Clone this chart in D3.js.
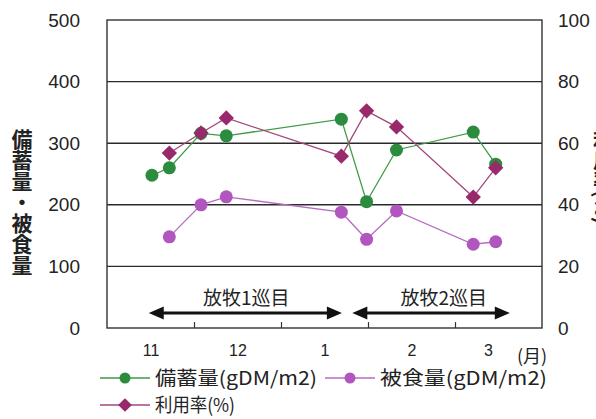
<!DOCTYPE html>
<html>
<head>
<meta charset="utf-8">
<script src="https://cdn.jsdelivr.net/npm/d3@7"></script>
<style>
  html, body { margin: 0; padding: 0; background: #fff; }
  svg { display: block; }
</style>
</head>
<body>
<svg id="chart" width="596" height="419"></svg>
<script>
// ---- data ----
const dates    = ["11/16","11/22","12/03","12/12","01/22","01/31","02/10","03/07","03/15"];
const standing = [248, 260, 316, 312, 339, 205, 289, 318, 266];   // 備蓄量 gDM/m2
const eaten    = [null, 148, 200, 213, 188, 144, 190, 136, 140];  // 被食量 gDM/m2
const rate     = [null, 56.8, 63.3, 68.2, 55.8, 70.5, 65.3, 42.5, 52.0]; // 利用率 %
const monthOrder  = [11, 12, 1, 2, 3];
const monthLabels = ["11", "12", "1", "2", "3"];
const monthLabelPos = [0.5, 1.5, 2.5, 3.5, 4.38];
const leftTicks  = [0, 100, 200, 300, 400, 500];
const rightTicks = [0, 20, 40, 60, 80, 100];
const gridTicks  = [100, 200, 300, 400];
const periods = [
  { label: "放牧1巡目", start: 0.48, end: 2.70, textAt: 1.60 },
  { label: "放牧2巡目", start: 2.82, end: 4.63, textAt: 3.87 }
];
const leftTitle  = "備蓄量・被食量";
const rightTitle = "利用率(%)";

// ---- helpers ----
function toMonth(s) {
  const [m, d] = s.split("/").map(Number);
  const i = monthOrder.indexOf(m);
  const year = m >= 11 ? 2007 : 2008;
  const days = new Date(year, m, 0).getDate();
  return i + (d - 0.5) / days;
}

const svg = d3.select("#chart");
const L = 107, R = 542, T = 20, B = 328;
const x  = d3.scaleLinear().domain([0, 5]).range([L, R]);
const yL = d3.scaleLinear().domain([0, 500]).range([B, T]);
const yR = d3.scaleLinear().domain([0, 100]).range([B, T]);

const latin = "'Liberation Sans', Arial, 'Noto Sans CJK JP', sans-serif";
const cjk = "'Noto Sans CJK JP', 'Liberation Sans', sans-serif";

const cGreen = "#2a8c3c", cGreenLine = "#3f9a45";
const cPink  = "#b256bf", cPinkLine  = "#b86cc3";
const cDia   = "#982a6c", cDiaLine   = "#a4477c";

// gridlines
svg.append("g").selectAll("line").data(gridTicks).join("line")
  .attr("x1", L).attr("x2", R)
  .attr("y1", d => yL(d)).attr("y2", d => yL(d))
  .attr("stroke", "#2a2a2a").attr("stroke-width", 1.4);

// frame
svg.append("rect").attr("x", L).attr("y", T).attr("width", R - L).attr("height", B - T)
  .attr("fill", "none").attr("stroke", "#333").attr("stroke-width", 1.4);

// left axis
const gl = svg.append("g").attr("transform", `translate(${L},0)`)
  .call(d3.axisLeft(yL).tickValues(leftTicks).tickSize(0).tickPadding(27));
gl.select(".domain").remove();
gl.selectAll("text").attr("font-family", latin).attr("font-size", 19).attr("fill", "#222");

// right axis
const gr = svg.append("g").attr("transform", `translate(${R},0)`)
  .call(d3.axisRight(yR).tickValues(rightTicks).tickSize(0).tickPadding(16));
gr.select(".domain").remove();
gr.selectAll("text").attr("font-family", latin).attr("font-size", 19).attr("fill", "#222");

// x ticks (inside)
const gx = svg.append("g").attr("transform", `translate(0,${B})`)
  .call(d3.axisBottom(x).tickValues([1, 2, 3, 4]).tickSize(-6).tickFormat(""));
gx.select(".domain").remove();
gx.selectAll("line").attr("stroke", "#333").attr("stroke-width", 1.2);

// x labels
const gxl = svg.append("g").attr("transform", `translate(0,${B})`)
  .call(d3.axisBottom(x).tickValues(monthLabelPos).tickSize(0).tickPadding(17)
    .tickFormat((d, i) => monthLabels[i]));
gxl.select(".domain").remove();
gxl.selectAll("text").attr("font-family", latin).attr("font-size", 16).attr("fill", "#222");

svg.append("text").attr("x", 532).attr("y", 363).attr("text-anchor", "middle")
  .attr("font-family", cjk).attr("font-size", 18).attr("fill", "#222").text("(月)");

// axis titles (vertical writing)
svg.append("text").attr("x", 22).attr("y", 202)
  .style("writing-mode", "vertical-rl").attr("text-anchor", "middle")
  .attr("font-family", cjk).attr("font-size", 21).attr("font-weight", "bold")
  .attr("fill", "#222").text(leftTitle);
svg.append("text").attr("x", 603).attr("y", 130)
  .style("writing-mode", "vertical-rl").attr("text-anchor", "start")
  .attr("font-family", cjk).attr("font-size", 20).attr("font-weight", "bold")
  .attr("fill", "#222").text(rightTitle);

// period arrows
const ay = B - 15;
periods.forEach(p => {
  const x1 = x(p.start), x2 = x(p.end);
  svg.append("line").attr("x1", x1 + 10).attr("x2", x2 - 10).attr("y1", ay).attr("y2", ay)
    .attr("stroke", "#111").attr("stroke-width", 3);
  svg.append("path").attr("d", `M${x1},${ay}L${x1 + 15},${ay - 6.5}L${x1 + 15},${ay + 6.5}Z`).attr("fill", "#111");
  svg.append("path").attr("d", `M${x2},${ay}L${x2 - 15},${ay - 6.5}L${x2 - 15},${ay + 6.5}Z`).attr("fill", "#111");
  svg.append("text").attr("x", x(p.textAt)).attr("y", ay - 8).attr("text-anchor", "middle")
    .attr("font-family", cjk).attr("font-size", 19).attr("fill", "#222").text(p.label);
});

// series
const pts = dates.map((d, i) => ({ m: toMonth(d), s: standing[i], e: eaten[i], r: rate[i] }));

const lineS = d3.line().x(d => x(d.m)).y(d => yL(d.s));
const lineE = d3.line().defined(d => d.e != null).x(d => x(d.m)).y(d => yL(d.e));
const lineR = d3.line().defined(d => d.r != null).x(d => x(d.m)).y(d => yR(d.r));

svg.append("path").datum(pts).attr("d", lineS).attr("fill", "none").attr("stroke", cGreenLine).attr("stroke-width", 1.3);
svg.append("path").datum(pts).attr("d", lineE).attr("fill", "none").attr("stroke", cPinkLine).attr("stroke-width", 1.3);
svg.append("path").datum(pts).attr("d", lineR).attr("fill", "none").attr("stroke", cDiaLine).attr("stroke-width", 1.3);

svg.append("g").selectAll("circle").data(pts).join("circle")
  .attr("cx", d => x(d.m)).attr("cy", d => yL(d.s)).attr("r", 6.5).attr("fill", cGreen);
svg.append("g").selectAll("circle").data(pts.filter(d => d.e != null)).join("circle")
  .attr("cx", d => x(d.m)).attr("cy", d => yL(d.e)).attr("r", 6.5).attr("fill", cPink);
const diamond = d3.symbol().type(d3.symbolDiamond2).size(150);
svg.append("g").selectAll("path").data(pts.filter(d => d.r != null)).join("path")
  .attr("transform", d => `translate(${x(d.m)},${yR(d.r)})`).attr("d", diamond).attr("fill", cDia);

// legend
const legend = [
  { label: "備蓄量(gDM/m2)", x: 100, y: 378, color: cGreen, line: cGreenLine, shape: "circle", w: 162 },
  { label: "被食量(gDM/m2)", x: 325, y: 378, color: cPink, line: cPinkLine, shape: "circle", w: 167 },
  { label: "利用率(%)", x: 100, y: 405, color: cDia, line: cDiaLine, shape: "diamond", w: 80 }
];
const lg = svg.append("g").selectAll("g").data(legend).join("g")
  .attr("transform", d => `translate(${d.x},${d.y})`);
lg.append("line").attr("x1", 0).attr("x2", 50).attr("y1", 0).attr("y2", 0)
  .attr("stroke", d => d.line).attr("stroke-width", 1.5);
lg.append("path")
  .attr("transform", "translate(25,0)")
  .attr("d", d => d.shape === "circle"
    ? d3.symbol().type(d3.symbolCircle).size(95)()
    : d3.symbol().type(d3.symbolDiamond2).size(120)())
  .attr("fill", d => d.color);
lg.append("text").attr("x", 55).attr("y", 0).attr("dy", "0.36em")
  .attr("font-family", cjk).attr("font-size", 19).attr("fill", "#222")
  .attr("textLength", d => d.w).attr("lengthAdjust", "spacingAndGlyphs")
  .text(d => d.label);
</script>
</body>
</html>
